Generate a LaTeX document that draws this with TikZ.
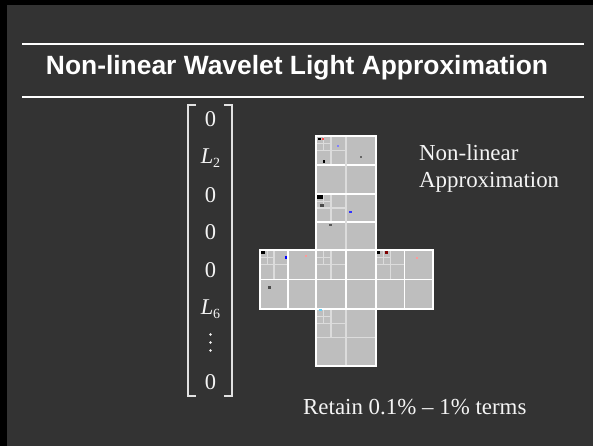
\documentclass[tikz,border=0pt]{standalone}
\usepackage{fontspec}
\setmainfont{Liberation Serif}
\newfontfamily\titlefont{Liberation Sans}
\definecolor{slidebg}{HTML}{333333}
\definecolor{facegray}{HTML}{BEBEBE}
\definecolor{finegray}{HTML}{DCDCDC}
\definecolor{inkwhite}{HTML}{F4F4F4}
\definecolor{brackgray}{HTML}{E2E2E2}
\tikzset{
  fineline/.style={draw=finegray,line width=1.1pt},
  midline/.style={line width=1.4pt},
  faceedge/.style={draw=white,line width=1.6pt},
  entry/.style={anchor=base,inner sep=0pt,text=inkwhite,font=\fontsize{22.5}{26}\selectfont},
  plaintext/.style={anchor=base west,inner sep=0pt,text=inkwhite,font=\fontsize{22.9}{27}\selectfont},
  speck/.style={fill=#1},
}
% one face of the cube map: x, y, w, h, colour of the row split, colour of the column split
\newcommand{\wavface}[6]{%
  \fill[facegray] (#1,#2) rectangle ++(#3,#4);
  \draw[fineline,line width=0.8pt] (#1+#3/8,#2) -- ++(0,#4/4) (#1,#2+#4/8) -- ++(#3/4,0);
  \draw[fineline] (#1+#3/4,#2) -- ++(0,#4/2) (#1,#2+#4/4) -- ++(#3/2,0);
  \draw[midline,draw=#5] (#1,#2+#4/2) -- ++(#3,0);
  \draw[midline,draw=#6] (#1+#3/2,#2) -- ++(0,#4);
  \draw[faceedge] (#1,#2) rectangle ++(#3,#4);
}

\begin{document}
\begin{tikzpicture}[x=1pt,y=-1pt,line cap=butt,line join=miter]
  \fill[slidebg] (0,0) rectangle (593,446);
  \useasboundingbox (0,0) rectangle (593,446);
  \fill[black] (0,0) rectangle (593,5);
  \fill[black] (0,0) rectangle (7,446);

  % title bar
  \coordinate (ruleAl) at (22,44);
  \coordinate (ruleAr) at (584,44);
  \coordinate (ruleBl) at (22,97);
  \coordinate (ruleBr) at (584,97);
  \draw[white,line width=2.6pt] (ruleAl) -- (ruleAr);
  \draw[white,line width=2.6pt] (ruleBl) -- (ruleBr);
  \node[anchor=base,inner sep=0pt,text=white,font=\titlefont\bfseries\fontsize{26.4}{30}\selectfont]
    (title) at (297,75) {Non-linear Wavelet Light Approximation};

  % light vector
  \draw[brackgray,line width=1.3pt] (196,105) -- (188,105) -- (188,396) -- (196,396);
  \draw[brackgray,line width=1.3pt] (224,105) -- (232,105) -- (232,396) -- (224,396);
  \node[entry] (v1) at (210.5,127) {0};
  \node[entry] (v2) at (210.5,164) {\itshape L\kern-0.5pt\raisebox{-4pt}{\fontsize{14}{14}\selectfont\upshape 2}};
  \node[entry] (v3) at (210.5,202) {0};
  \node[entry] (v4) at (210.5,239) {0};
  \node[entry] (v5) at (210.5,277) {0};
  \node[entry] (v6) at (210.5,314) {\itshape L\kern-0.5pt\raisebox{-4pt}{\fontsize{14}{14}\selectfont\upshape 6}};
  \fill[inkwhite] (210.5,334.5) circle (1.3) (210.5,342.5) circle (1.3) (210.5,350.5) circle (1.3);
  \node[entry] (v8) at (210.5,389) {0};

  % cube map cross of wavelet coefficients
  \wavface{316}{136}{60}{58}{white}{finegray}
  \wavface{316}{194}{60}{56}{white}{finegray}
  \wavface{260}{250}{56}{59}{white}{white}
  \wavface{316}{250}{60}{59}{white}{white}
  \wavface{376}{250}{57}{59}{white}{white}
  \wavface{316}{309}{60}{57}{finegray}{finegray}

  % a few of the kept coefficients
  \fill[speck=black] (318,138) rectangle +(3,2);
  \fill[speck=red!70] (322,138) rectangle +(2,2);
  \fill[speck=blue!50] (337,145) rectangle +(2,2);
  \fill[speck=black] (323,160) rectangle +(2,3);
  \fill[speck=gray!80!black] (360,156) rectangle +(2,2);
  \fill[speck=black] (317,195) rectangle +(6,4);
  \fill[speck=gray!60!black] (320,204) rectangle +(4,3);
  \fill[speck=blue!80] (349,211) rectangle +(3,2);
  \fill[speck=gray!70!black] (329,224) rectangle +(3,2);
  \fill[speck=black] (261,251) rectangle +(4,3);
  \fill[speck=blue] (285,256) rectangle +(2,3);
  \fill[speck=red!40] (305,255) rectangle +(2,2);
  \fill[speck=black] (377,251) rectangle +(3,3);
  \fill[speck=red!50!black] (385,251) rectangle +(3,3);
  \fill[speck=red!40] (416,257) rectangle +(2,2);
  \fill[speck=gray!60!black] (268,286) rectangle +(3,3);
  \fill[speck=cyan!60] (319,309) rectangle +(3,2);

  % side notes
  \node[plaintext] (apxA) at (419,161) {Non-linear};
  \node[plaintext] (apxB) at (419,188) {Approximation};
  \node[plaintext] (retain) at (303,414) {Retain 0.1\% -- 1\% terms};
\end{tikzpicture}
\end{document}
